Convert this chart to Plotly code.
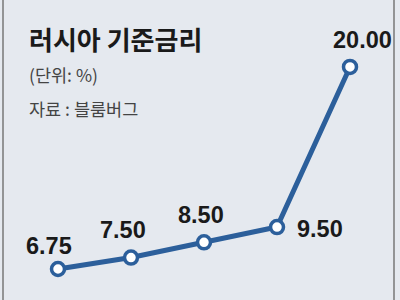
import plotly.graph_objects as go

# Data
periods = ["p1", "p2", "p3", "p4", "p5"]
rates = [6.75, 7.50, 8.50, 9.50, 20.00]
labels = ["6.75", "7.50", "8.50", "9.50", "20.00"]

title_text = "러시아 기준금리"
unit_text = "(단위: %)"
source_text = "자료 : 블룸버그"

BG = "#e5e9ef"
LINE = "#2c5f9b"

xs = list(range(len(periods)))

fig = go.Figure()
fig.add_trace(go.Scatter(
    x=xs, y=rates, mode="lines+markers",
    line=dict(color=LINE, width=5),
    marker=dict(size=13, color="white", line=dict(color=LINE, width=3.5)),
    hoverinfo="skip",
))

# label offsets (pixels) relative to each point
offsets = [(-9, 23), (-8, 28), (-3, 27), (43, -2), (12, 27)]
for x, y, t, (dx, dy) in zip(xs, rates, labels, offsets):
    fig.add_annotation(x=x, y=y, xref="x", yref="y", text="<b>" + t + "</b>", showarrow=False,
                       xshift=dx, yshift=dy,
                       font=dict(family="Liberation Sans, Arial, sans-serif",
                                 size=23.5, color="#1a1a1a"),
                       xanchor="center", yanchor="middle")

fig.add_annotation(x=27/400, y=1-38/300, xref="paper", yref="paper", text="<b>" + title_text + "</b>",
                   showarrow=False, xanchor="left", yanchor="middle",
                   font=dict(family="Noto Sans CJK KR", size=26, color="#1a1a1a"))
fig.add_annotation(x=27/400, y=1-74/300, xref="paper", yref="paper", text=unit_text,
                   showarrow=False, xanchor="left", yanchor="middle",
                   font=dict(family="Noto Sans CJK KR", size=17.5, color="#444444"))
fig.add_annotation(x=27/400, y=1-108/300, xref="paper", yref="paper", text=source_text,
                   showarrow=False, xanchor="left", yanchor="middle",
                   font=dict(family="Noto Sans CJK KR", size=17.5, color="#444444"))

# frame lines
for px in (3, 394):
    fig.add_shape(type="line", xref="paper", yref="paper", x0=px/400, x1=px/400, y0=0, y1=1,
                  line=dict(color="#777777", width=1.5))

fig.update_layout(
    width=400, height=300,
    margin=dict(l=0, r=0, t=0, b=0),
    paper_bgcolor=BG, plot_bgcolor=BG,
    showlegend=False,
    xaxis=dict(range=[-58/73, (400-58)/73], visible=False, fixedrange=True),
    yaxis=dict(range=[6.75 - 31/15.25, 6.75 + 269/15.25], visible=False, fixedrange=True),
)

fig.write_html("out.html")
